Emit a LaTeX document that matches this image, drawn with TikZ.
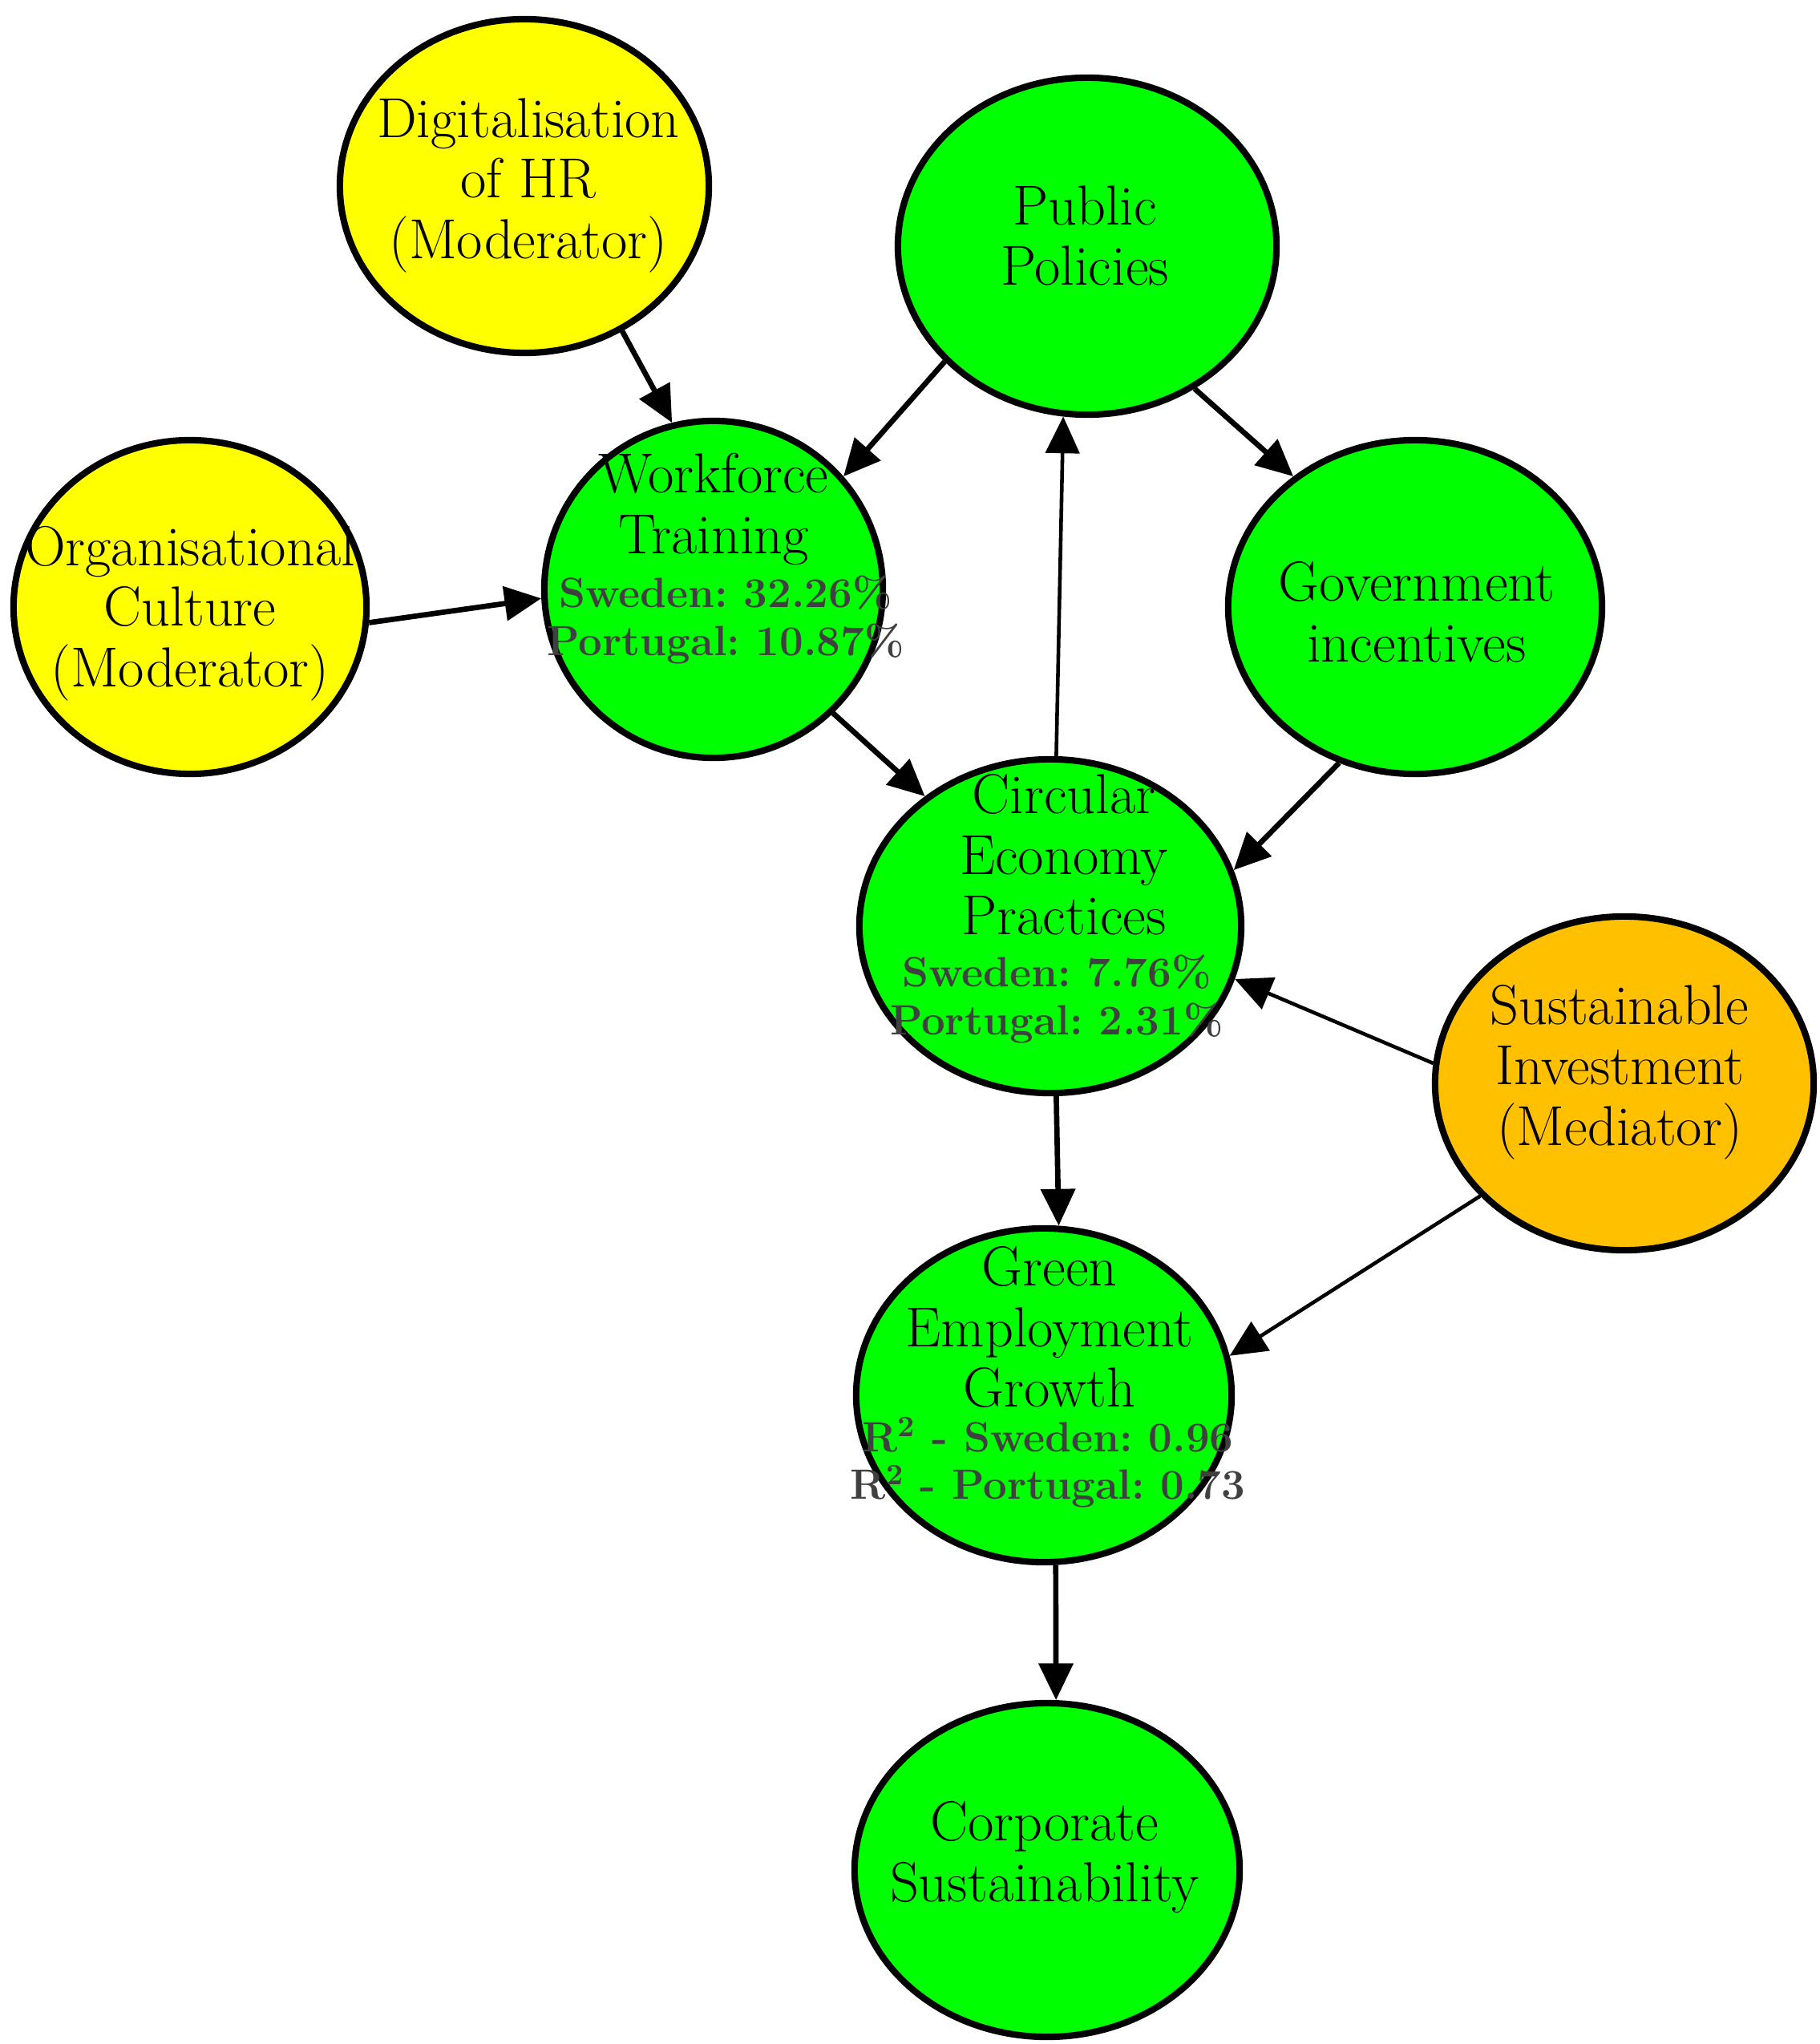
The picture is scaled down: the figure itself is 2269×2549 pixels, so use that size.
\documentclass[tikz,border=0pt]{standalone}
\usetikzlibrary{shapes.geometric,arrows.meta}
\definecolor{yel}{HTML}{FFFF00}
\definecolor{grn}{HTML}{00FF00}
\definecolor{orn}{HTML}{FFC000}
\definecolor{statc}{HTML}{404040}
\begin{document}
\frenchspacing
\begin{tikzpicture}[x=0.01cm,y=-0.01cm,
  blob/.style={ellipse,draw=black,line width=2.3pt,inner sep=0pt},
  maintxt/.style={align=center,font=\fontsize{20}{21.5}\selectfont,inner sep=0pt},
  stattxt/.style={align=center,text=statc,font=\fontsize{15}{17}\selectfont\bfseries,inner sep=0pt},
  thickarrow/.style={-{Triangle[length=13pt,width=12pt]},line width=1.9pt},
  thinarrow/.style={-{Triangle[length=13pt,width=12pt]},line width=1.3pt}]
\path[use as bounding box] (0,0) rectangle (2269,2549);
% ellipses
\node[blob,fill=yel,minimum width=4.60cm,minimum height=4.16cm] (dhr) at (654,232) {};
\node[blob,fill=grn,minimum width=4.72cm,minimum height=4.20cm] (pp) at (1356,307) {};
\node[blob,fill=yel,minimum width=4.40cm,minimum height=4.16cm] (oc) at (237,757) {};
\node[blob,fill=grn,minimum width=4.22cm,minimum height=4.20cm] (wt) at (890,735) {};
\node[blob,fill=grn,minimum width=4.66cm,minimum height=4.16cm] (gi) at (1765,757) {};
\node[blob,fill=grn,minimum width=4.76cm,minimum height=4.16cm] (cep) at (1310,1155) {};
\node[blob,fill=orn,minimum width=4.72cm,minimum height=4.16cm] (si) at (2026,1351) {};
\node[blob,fill=grn,minimum width=4.68cm,minimum height=4.16cm] (geg) at (1302,1740) {};
\node[blob,fill=grn,minimum width=4.80cm,minimum height=4.16cm] (cs) at (1306,2332) {};
% connectors
\draw[thickarrow] (dhr.304) -- (wt.104);
\draw[thickarrow] (pp.219) -- (wt.41);
\draw[thickarrow] (pp.307) -- (gi.133);
\draw[thickarrow] (oc.355) -- (wt.183);
\draw[thickarrow] (wt.314) -- (cep.134);
\draw[thinarrow] (cep.88) -- (pp.262);
\draw[thickarrow] (gi.244) -- (cep.17);
\draw[thinarrow] (si.174) -- (cep.344);
\draw[thickarrow] (cep.272) -- (geg.85);
\draw[thinarrow] (si.218) -- (geg.12);
\draw[thickarrow] (geg.274) -- (cs.87);
% texts
\node[maintxt] (dhr-t) at (659,231) {Digitalisation\\of HR\\(Moderator)};
\node[maintxt] (pp-t) at (1353,294) {Public\\Policies};
\node[maintxt] (oc-t) at (237,765) {Organisational\\Culture\\(Moderator)};
\node[maintxt] (wt-t) at (890,635) {Workforce\\Training};
\node[stattxt] (wt-s) at (905,773) {Sweden: 32.26\%\\Portugal: 10.87\%};
\node[maintxt] (gi-t) at (1767,763) {Government\\incentives};
\node[maintxt] (cep-t) at (1327,1066) {Circular\\Economy\\Practices};
\node[stattxt] (cep-s) at (1318,1246) {Sweden: 7.76\%\\Portugal: 2.31\%};
\node[maintxt] (si-t) at (2020,1337) {Sustainable\\Investment\\(Mediator)};
\node[maintxt] (geg-t) at (1309,1655) {Green\\Employment\\Growth};
\node[stattxt] (geg-s) at (1307,1824) {R\textsuperscript{2} - Sweden: 0.96\\R\textsuperscript{2} - Portugal: 0.73};
\node[maintxt] (cs-t) at (1303,2316) {Corporate\\Sustainability};
\end{tikzpicture}
\end{document}
